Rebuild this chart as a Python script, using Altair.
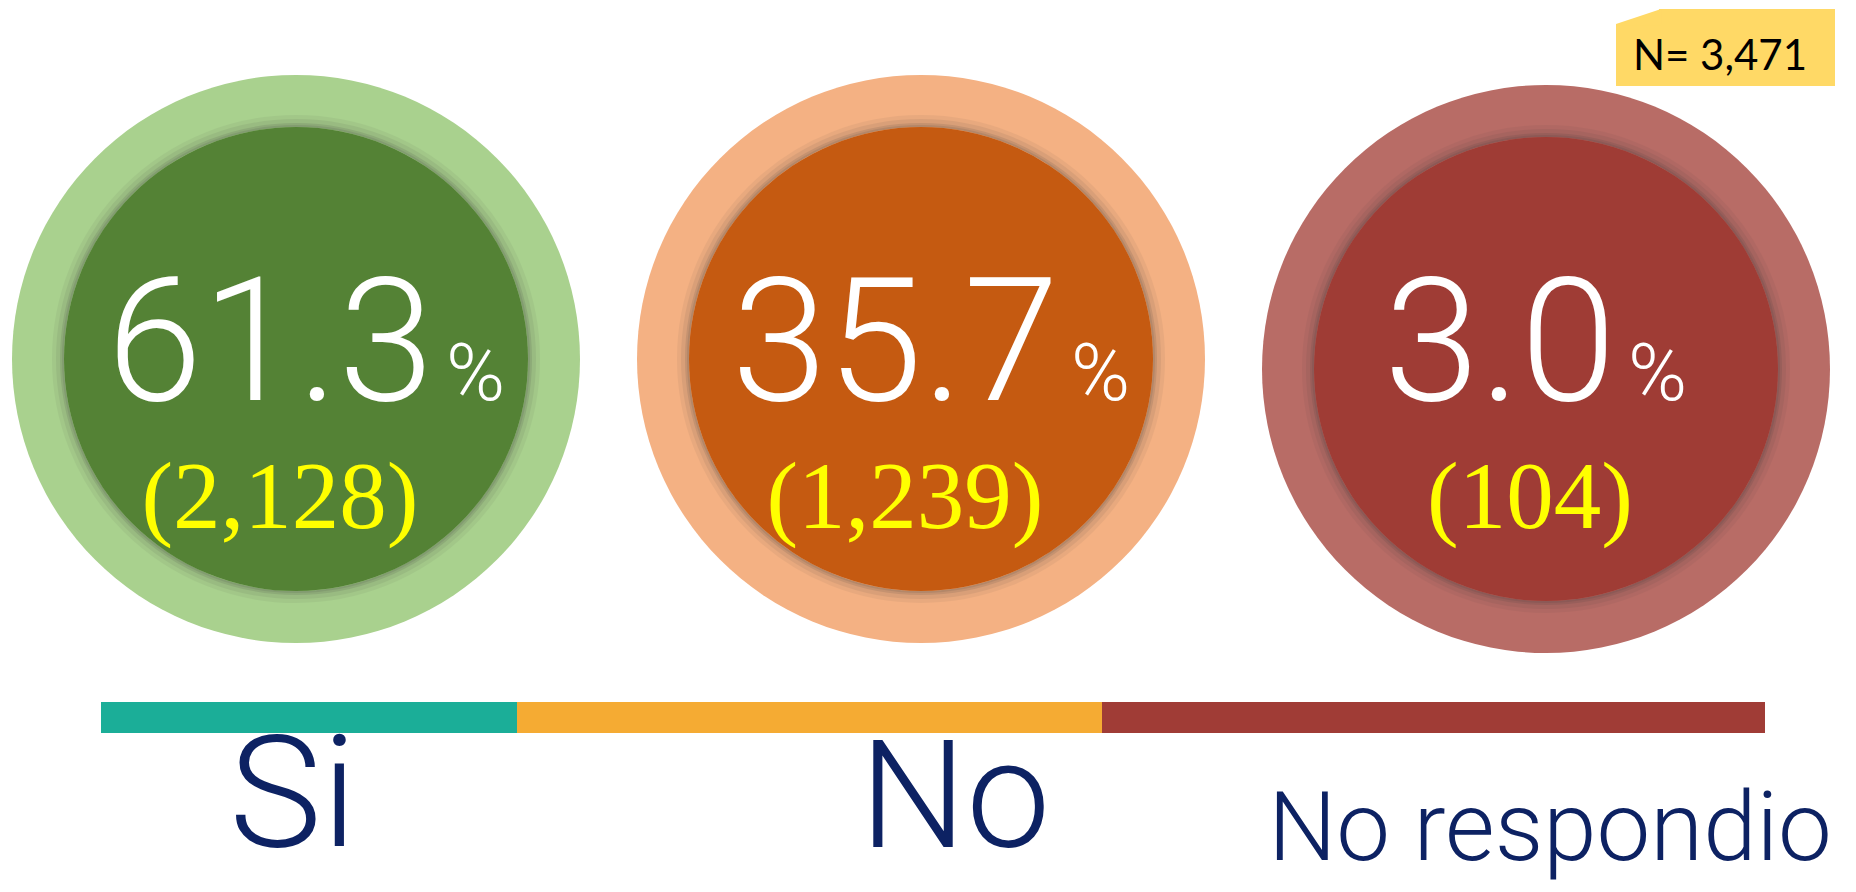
import altair as alt
import pandas as pd

# ---- data ----
categories = ["Si", "No", "No respondio"]
counts = [2128, 1239, 104]
percents = [61.3, 35.7, 3.0]
total_n = 3471

# ---- styles ----
outer_colors = ["#a9d18e", "#f4b183", "#b86c66"]
inner_colors = ["#548235", "#c55a11", "#9f3c35"]
bar_colors = ["#1bae98", "#f5ab33", "#a03c36"]
label_color = "#0d2263"
box_color = "#ffd966"

df = pd.DataFrame({"cat": categories, "idx": list(range(len(categories))),
                   "count": counts, "pct": percents})
df["idx_end"] = df["idx"] + 1

base = alt.Chart(df)

cx = alt.Scale(domain=[0, 1, 2], range=[288, 913, 1538], zero=False, nice=False)
cy = alt.Scale(domain=[0, 1, 2], range=[351, 351, 361], zero=False, nice=False)
X = alt.X("idx:Q", scale=cx, axis=None)
Y = alt.Y("idx:Q", scale=cy, axis=None)

OUTER_D = 568
INNER_D = 464

outer = base.mark_circle(size=OUTER_D ** 2, opacity=1).encode(
    x=X, y=Y,
    color=alt.Color("cat:N", scale=alt.Scale(domain=categories, range=outer_colors), legend=None),
)

# soft shadow just outside the inner disc (stroked rings, widest and faintest first)
shadows = [
    base.mark_point(shape="circle", filled=False, size=(INNER_D + w) ** 2, color="#3a3a3a",
                    strokeWidth=w, opacity=op).encode(x=X, y=Y)
    for w, op in [(12, 0.06), (8, 0.08), (4, 0.12), (2, 0.12)]
]

inner = base.mark_circle(size=INNER_D ** 2, opacity=1).encode(
    x=X, y=Y,
    color=alt.Color("cat:N", scale=alt.Scale(domain=categories, range=inner_colors), legend=None),
)

pct_num = base.transform_calculate(
    lab="format(datum.pct, '.1f')",
    xn="datum.idx + (68 * length(format(datum.pct, '.1f')) - 134) / 625",
).mark_text(align="right", baseline="alphabetic", font="Roboto", fontWeight=300,
            fontSize=172, color="white").encode(
    x=alt.X("xn:Q", scale=cx, axis=None), y=alt.value(392), text="lab:N")

pct_sign = base.transform_calculate(
    xs="datum.idx + (68 * length(format(datum.pct, '.1f')) - 134 + 12) / 625",
).mark_text(align="left", baseline="alphabetic", font="Roboto", fontWeight=300,
            fontSize=80, color="white", text="%").encode(
    x=alt.X("xs:Q", scale=cx, axis=None), y=alt.value(392))

count_txt = base.transform_calculate(
    lab="'(' + format(datum.count, ',') + ')'"
).mark_text(align="center", baseline="alphabetic", font="Liberation Serif",
            fontSize=95, color="#ffff00", dx=-16).encode(
    x=X, y=alt.value(520), text="lab:N")

bar = base.mark_rect().encode(
    x=alt.X("idx:Q", scale=alt.Scale(domain=[0, 1, 2, 3], range=[93, 509, 1094, 1757],
                                     zero=False, nice=False), axis=None),
    x2="idx_end:Q",
    y=alt.value(694), y2=alt.value(725),
    color=alt.Color("cat:N", scale=alt.Scale(domain=categories, range=bar_colors), legend=None),
)

labels = base.mark_text(align="center", baseline="alphabetic", font="Roboto",
                        fontWeight=300, color=label_color).encode(
    x=alt.X("idx:Q", scale=alt.Scale(domain=[0, 1, 2], range=[285, 947, 1542],
                                     zero=False, nice=False), axis=None),
    y=alt.Y("idx:Q", scale=alt.Scale(domain=[0, 1, 2], range=[838, 839, 852],
                                     zero=False, nice=False), axis=None),
    size=alt.Size("idx:Q", scale=alt.Scale(domain=[0, 1, 2], range=[156, 150, 96],
                                           zero=False, nice=False), legend=None),
    text="cat:N",
)

ndf = pd.DataFrame({"n": [total_n]})
nbase = alt.Chart(ndf)
nbox_main = nbase.mark_rect(color=box_color).encode(
    x=alt.value(1608), x2=alt.value(1827), y=alt.value(16), y2=alt.value(78))
nbox_top = nbase.mark_rect(color=box_color).encode(
    x=alt.value(1651), x2=alt.value(1827), y=alt.value(1), y2=alt.value(17))
nbox_notch = nbase.mark_point(shape="M -1 0.34 L 1.05 -0.34 L 1.05 0.4 L -1 0.4 Z",
                              size=44 ** 2, filled=True, color=box_color, opacity=1,
                              strokeWidth=0).encode(
    x=alt.value(1630), y=alt.value(8.5))
nbox_txt = nbase.transform_calculate(
    lab="'N= ' + format(datum.n, ',')"
).mark_text(align="center", baseline="alphabetic", font="Lato", fontSize=42,
            color="#000000").encode(x=alt.value(1712), y=alt.value(62), text="lab:N")

chart = alt.layer(
    outer, *shadows, inner, pct_num, pct_sign, count_txt,
    bar, labels, nbox_main, nbox_top, nbox_notch, nbox_txt,
).resolve_scale(
    x="independent", y="independent", color="independent", size="independent"
).properties(
    width=1840, height=876, padding=0, autosize="none"
).configure_view(strokeWidth=0)

chart.save("out.html", embed_options={"renderer": "svg", "actions": False})
